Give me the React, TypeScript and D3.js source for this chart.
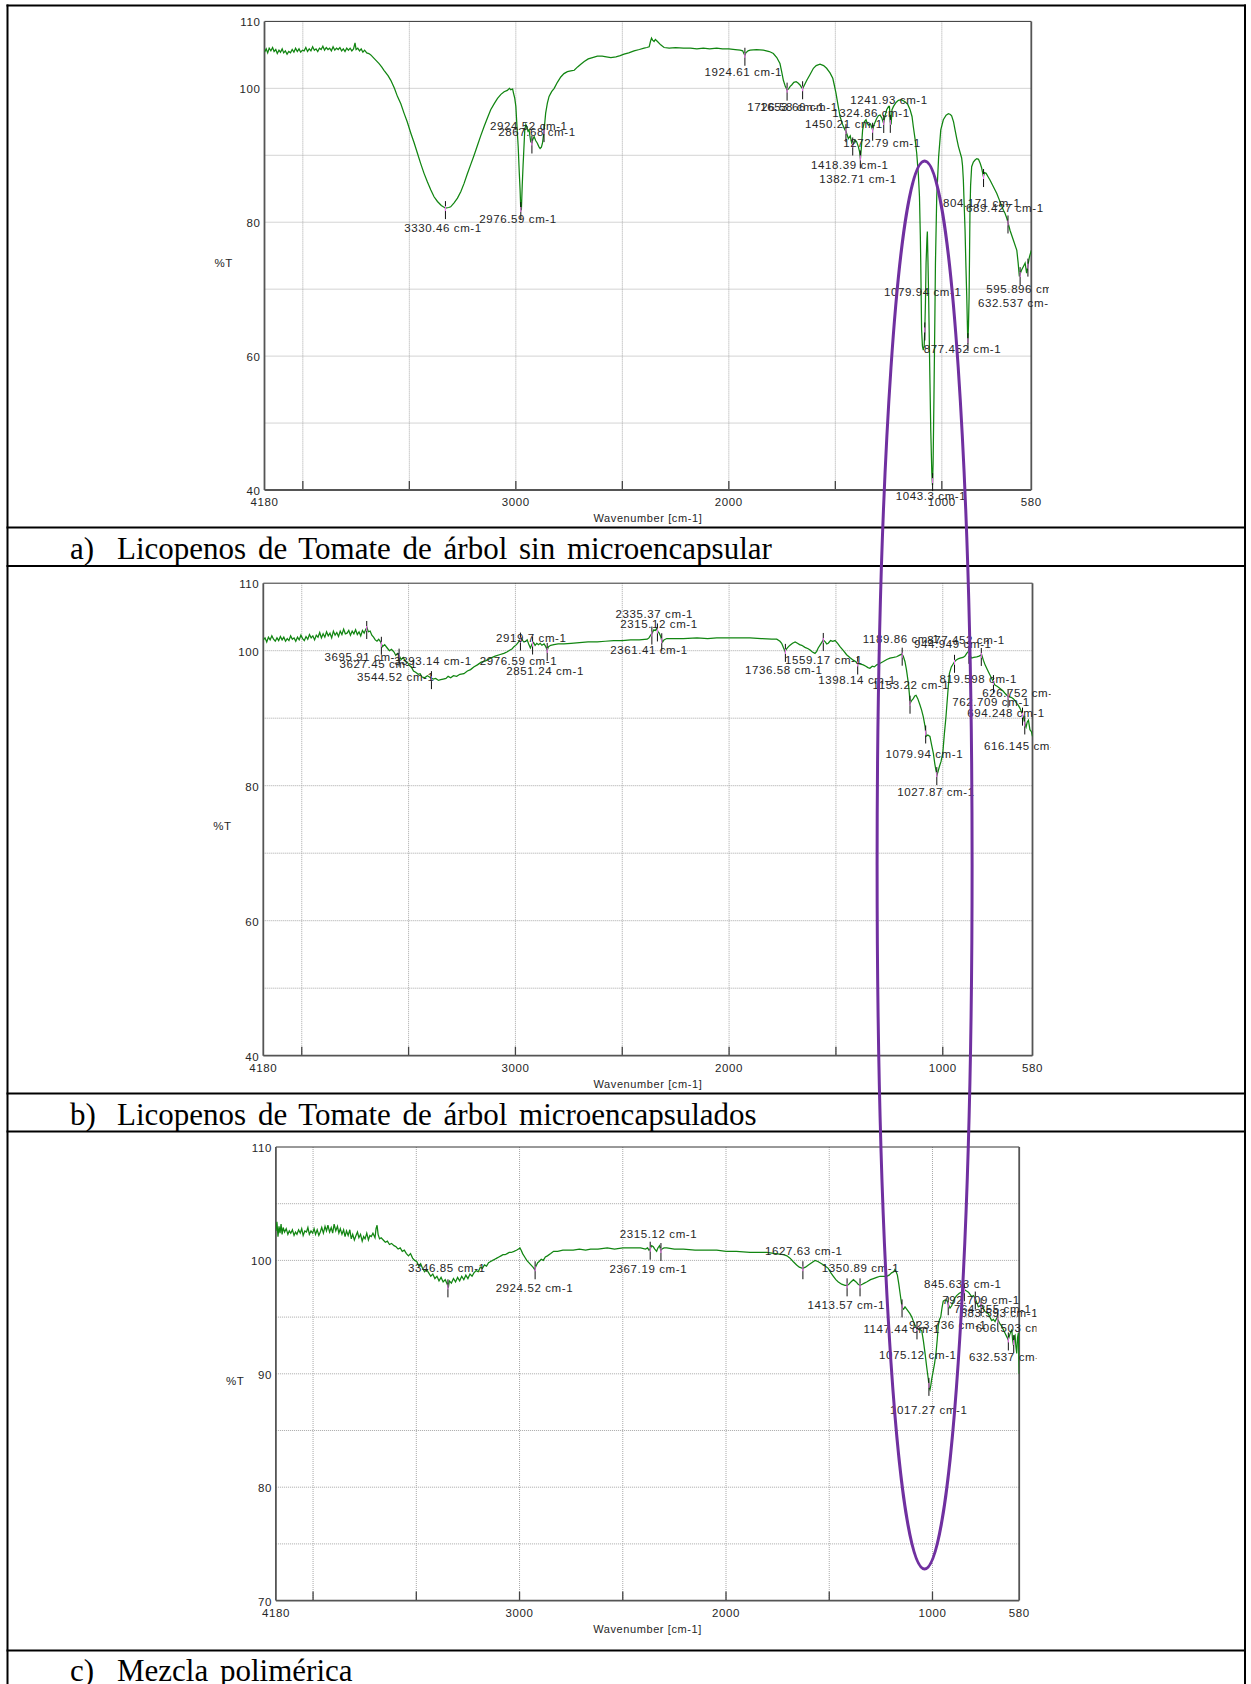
import React from "react";
import * as d3 from "d3";

type Pt = [number, number];

// ---------- Spectrum a) Licopenos sin microencapsular : [wavenumber, %T]
const SPEC_A: Pt[] = [
  [4180, 105.4], [4172, 105.9], [4165, 105.3], [4158, 106.0], [4150, 105.6], [4142, 106.1], [4135, 105.5], [4127, 105.8],
  [4120, 105.2], [4112, 105.7], [4105, 105.4], [4097, 105.9], [4090, 105.3], [4082, 105.6], [4074, 105.1], [4066, 105.5],
  [4058, 105.3], [4050, 105.8], [4042, 105.4], [4034, 106.0], [4026, 105.5], [4018, 105.9], [4010, 105.4], [4002, 105.7],
  [3994, 105.6], [3986, 106.1], [3978, 105.5], [3970, 105.9], [3962, 105.6], [3954, 106.2], [3946, 105.7], [3938, 105.9],
  [3930, 105.5], [3922, 106.0], [3914, 105.8], [3906, 106.3], [3898, 105.7], [3890, 106.1], [3882, 105.8], [3874, 106.0],
  [3866, 105.6], [3858, 106.2], [3850, 105.7], [3842, 106.0], [3834, 105.8], [3826, 106.1], [3818, 105.6], [3810, 105.9],
  [3802, 105.5], [3794, 106.0], [3786, 105.7], [3778, 106.0], [3770, 105.6], [3762, 105.9], [3755, 106.8], [3750, 105.8],
  [3742, 106.0], [3734, 105.6], [3726, 105.9], [3718, 105.4], [3710, 105.7], [3700, 105.3], [3690, 105.2], [3681, 105.0],
  [3660, 104.3], [3642, 103.7], [3630, 103.2], [3619, 102.7], [3600, 101.9], [3587, 101.2], [3570, 100.0], [3556, 98.8],
  [3540, 97.7], [3525, 96.3], [3510, 95.0], [3493, 93.3], [3478, 91.9], [3462, 90.3], [3447, 88.8], [3431, 87.3],
  [3415, 86.0], [3399, 84.8], [3384, 83.8], [3368, 83.1], [3350, 82.5], [3330, 82.1], [3315, 82.2], [3306, 82.3],
  [3290, 82.9], [3274, 83.6], [3258, 84.6], [3243, 85.8], [3228, 87.2], [3212, 88.6], [3196, 90.0], [3180, 91.5],
  [3165, 92.9], [3149, 94.3], [3133, 95.6], [3118, 96.8], [3100, 97.8], [3086, 98.5], [3070, 99.1], [3055, 99.5],
  [3040, 99.7], [3030, 100.0], [3024, 99.8], [3015, 99.9], [3011, 99.3], [3005, 98.5], [3000, 97.3], [2995, 94.5],
  [2989, 91.3], [2984, 87.5], [2980, 84.8], [2977, 82.0], [2974, 81.8], [2970, 85.5], [2966, 88.5], [2964, 89.8],
  [2960, 92.5], [2958, 93.8], [2953, 94.6], [2949, 94.3], [2943, 93.6], [2938, 93.8], [2930, 92.0], [2924, 91.9],
  [2920, 92.4], [2914, 92.8], [2907, 92.2], [2899, 91.8], [2892, 91.3], [2886, 91.0], [2880, 91.2], [2875, 91.8],
  [2868, 93.5], [2860, 96.3], [2852, 97.8], [2844, 98.8], [2832, 99.5], [2820, 100.0], [2805, 100.9], [2789, 101.7],
  [2774, 102.2], [2758, 102.5], [2742, 102.6], [2726, 102.7], [2710, 103.2], [2695, 103.6], [2679, 104.0], [2660, 104.4],
  [2640, 104.6], [2617, 104.8], [2595, 104.8], [2575, 104.7], [2554, 104.6], [2530, 104.7], [2510, 104.9], [2492, 105.1],
  [2470, 105.3], [2445, 105.6], [2420, 105.8], [2398, 106.0], [2385, 106.1], [2374, 106.2], [2368, 107.0], [2363, 107.5],
  [2358, 107.2], [2351, 107.0], [2345, 107.3], [2335, 107.0], [2320, 106.5], [2304, 106.1], [2280, 106.0], [2250, 106.1],
  [2213, 106.0], [2180, 106.0], [2150, 105.9], [2120, 106.0], [2090, 105.9], [2057, 106.0], [2030, 105.9], [2000, 105.9],
  [1970, 105.8], [1947, 105.7], [1935, 105.6], [1928, 105.1], [1924, 105.0], [1920, 105.3], [1910, 105.6], [1900, 105.7],
  [1870, 105.8], [1838, 105.7], [1810, 105.5], [1791, 105.2], [1775, 104.6], [1760, 103.7], [1752, 102.5], [1744, 101.2],
  [1735, 100.3], [1727, 99.8], [1720, 99.9], [1712, 100.3], [1705, 100.5], [1695, 100.9], [1684, 101.0], [1675, 100.8],
  [1666, 100.5], [1658, 100.1], [1653, 100.0], [1645, 100.5], [1634, 101.2], [1620, 102.0], [1603, 103.0], [1590, 103.4],
  [1572, 103.6], [1555, 103.4], [1541, 103.0], [1525, 102.3], [1512, 101.5], [1505, 100.5], [1497, 99.3], [1488, 97.6],
  [1478, 95.8], [1466, 94.6], [1455, 93.8], [1450, 93.6], [1439, 92.5], [1430, 92.9], [1423, 91.8], [1418, 91.6],
  [1408, 92.3], [1400, 92.0], [1392, 91.3], [1386, 90.5], [1382, 89.5], [1377, 91.5], [1372, 93.8], [1364, 95.0],
  [1356, 95.3], [1350, 94.8], [1345, 94.5], [1335, 94.7], [1325, 93.8], [1318, 94.6], [1306, 95.5], [1298, 95.9],
  [1290, 96.0], [1282, 95.6], [1274, 94.8], [1267, 95.8], [1259, 96.8], [1250, 97.3], [1246, 97.3], [1242, 95.0],
  [1238, 94.6], [1234, 96.8], [1227, 97.3], [1215, 97.9], [1204, 98.2], [1190, 98.3], [1173, 98.0], [1160, 97.6],
  [1149, 96.8], [1140, 95.8], [1134, 94.3], [1126, 92.5], [1118, 90.3], [1110, 87.0], [1105, 83.8], [1101, 78.0],
  [1099, 73.9], [1095, 63.9], [1091, 61.5], [1087, 60.9], [1083, 61.5], [1080, 63.9], [1077, 68.0], [1074, 73.9],
  [1070, 77.5], [1068, 78.6], [1065, 74.0], [1062, 68.9], [1057, 58.5], [1052, 48.9], [1047, 42.5], [1044, 40.7],
  [1041, 44.0], [1037, 53.9], [1033, 65.0], [1030, 73.9], [1024, 83.8], [1015, 89.8], [1005, 93.8], [993, 95.3],
  [980, 96.0], [969, 96.2], [960, 96.1], [954, 95.9], [945, 95.0], [938, 93.8], [930, 92.5], [922, 91.3],
  [907, 89.6], [903, 88.5], [899, 86.3], [895, 82.5], [891, 78.8], [887, 73.5], [883, 68.9], [880, 64.5],
  [878, 61.9], [875, 64.5], [872, 68.9], [870, 75.0], [868, 81.3], [865, 85.5], [860, 88.3], [852, 89.0],
  [844, 89.3], [836, 89.5], [828, 89.4], [820, 88.8], [813, 88.1], [805, 86.8], [800, 87.4], [792, 87.3],
  [783, 86.8], [774, 86.3], [758, 85.3], [742, 84.3], [726, 83.0], [711, 81.8], [703, 81.3], [695, 80.6],
  [688, 79.8], [680, 78.8], [664, 77.3], [648, 75.8], [642, 74.0], [636, 71.9], [630, 72.5], [625, 72.9],
  [617, 73.4], [609, 73.9], [602, 72.4], [596, 73.5], [589, 74.8], [580, 75.8],
];

// ---------- Spectrum b) Licopenos microencapsulados
const SPEC_B: Pt[] = [
  [4180, 101.6], [4172, 101.9], [4164, 101.3], [4156, 102.0], [4148, 101.6], [4140, 102.2], [4132, 101.7], [4124, 101.4],
  [4116, 101.9], [4108, 101.5], [4100, 102.1], [4092, 101.6], [4084, 102.0], [4076, 101.4], [4068, 101.8], [4060, 101.5],
  [4052, 102.2], [4044, 101.7], [4036, 101.9], [4028, 101.4], [4020, 102.0], [4012, 101.6], [4004, 102.3], [3996, 101.8],
  [3988, 101.5], [3980, 102.1], [3972, 101.7], [3964, 102.4], [3956, 101.9], [3948, 102.2], [3940, 101.6], [3932, 102.3],
  [3924, 102.0], [3916, 102.7], [3908, 101.9], [3900, 102.5], [3892, 102.0], [3884, 102.8], [3876, 102.2], [3868, 102.6],
  [3860, 101.9], [3852, 102.9], [3844, 102.3], [3836, 102.7], [3828, 102.1], [3820, 102.9], [3812, 102.4], [3804, 103.2],
  [3796, 102.5], [3788, 102.6], [3780, 103.0], [3772, 102.3], [3764, 102.9], [3756, 102.5], [3748, 103.1], [3740, 102.4],
  [3732, 102.8], [3724, 102.2], [3716, 103.0], [3708, 102.6], [3700, 103.2], [3695, 103.4], [3688, 102.8], [3680, 102.9],
  [3672, 102.3], [3664, 102.0], [3656, 101.6], [3648, 101.4], [3640, 101.7], [3631, 101.3], [3622, 100.6], [3612, 100.9],
  [3600, 100.4], [3590, 100.0], [3580, 100.2], [3568, 99.8], [3560, 99.3], [3552, 99.6], [3543, 99.2], [3535, 98.7],
  [3525, 99.0], [3515, 98.4], [3506, 98.3], [3496, 97.8], [3487, 97.6], [3477, 97.0], [3467, 96.8], [3455, 96.5],
  [3446, 96.6], [3437, 96.1], [3425, 96.0], [3412, 96.3], [3397, 96.0], [3385, 95.8], [3373, 95.9], [3360, 95.6],
  [3350, 95.7], [3338, 95.8], [3325, 95.9], [3315, 96.2], [3303, 96.0], [3290, 96.3], [3275, 96.2], [3260, 96.5],
  [3241, 96.6], [3225, 97.0], [3210, 97.2], [3195, 97.6], [3178, 97.9], [3160, 98.3], [3140, 98.5], [3116, 98.9],
  [3095, 99.2], [3075, 99.4], [3054, 99.6], [3040, 99.8], [3025, 100.1], [3015, 100.3], [3007, 100.6], [2995, 100.9],
  [2985, 101.3], [2978, 101.6], [2972, 101.8], [2966, 101.5], [2960, 101.3], [2952, 101.4], [2945, 101.6], [2938, 101.0],
  [2930, 100.4], [2922, 101.0], [2915, 101.2], [2908, 100.8], [2900, 101.1], [2892, 100.9], [2884, 101.1], [2876, 100.8],
  [2866, 101.0], [2858, 100.6], [2851, 100.1], [2845, 100.6], [2835, 100.8], [2820, 100.9], [2800, 101.0], [2773, 101.0],
  [2740, 101.1], [2700, 101.2], [2660, 101.3], [2617, 101.3], [2580, 101.4], [2540, 101.5], [2500, 101.5], [2461, 101.6],
  [2420, 101.6], [2383, 101.7], [2375, 101.9], [2367, 102.3], [2360, 102.6], [2352, 103.1], [2345, 103.0], [2339, 103.3],
  [2333, 102.8], [2327, 102.6], [2320, 102.1], [2316, 101.6], [2311, 101.3], [2305, 101.6], [2292, 101.8], [2250, 101.8],
  [2214, 101.8], [2150, 101.9], [2100, 101.8], [2058, 101.9], [2000, 101.9], [1950, 101.9], [1902, 101.9], [1850, 101.8],
  [1800, 101.7], [1777, 101.7], [1762, 101.4], [1754, 101.1], [1745, 100.4], [1738, 99.9], [1730, 100.3], [1722, 100.6],
  [1715, 100.8], [1703, 101.1], [1691, 101.3], [1680, 101.1], [1670, 100.9], [1660, 100.8], [1645, 100.5], [1630, 100.3],
  [1621, 100.1], [1610, 99.8], [1598, 99.6], [1590, 99.9], [1583, 100.4], [1575, 100.8], [1567, 101.2], [1559, 101.6],
  [1550, 101.3], [1543, 101.0], [1536, 101.1], [1525, 101.5], [1515, 101.4], [1504, 101.5], [1492, 101.1], [1481, 100.6],
  [1465, 100.0], [1450, 99.4], [1435, 99.0], [1419, 98.6], [1408, 98.4], [1398, 98.1], [1385, 98.0], [1372, 97.9],
  [1360, 97.7], [1350, 97.5], [1341, 97.4], [1330, 97.7], [1320, 97.6], [1309, 97.9], [1295, 98.1], [1278, 98.4],
  [1262, 98.7], [1247, 98.9], [1230, 99.0], [1216, 99.1], [1204, 99.3], [1192, 99.5], [1185, 99.2], [1177, 98.4],
  [1170, 97.2], [1161, 95.2], [1156, 93.5], [1153, 92.2], [1146, 92.6], [1138, 92.9], [1131, 93.3], [1125, 93.4],
  [1117, 92.9], [1107, 92.0], [1099, 91.2], [1091, 90.2], [1083, 88.8], [1078, 87.3], [1070, 87.5], [1060, 87.3],
  [1052, 86.0], [1044, 84.8], [1037, 83.2], [1032, 82.3], [1027, 81.6], [1022, 82.1], [1016, 82.8], [1008, 83.6],
  [1000, 84.8], [993, 87.5], [985, 90.2], [977, 93.5], [969, 96.6], [960, 97.6], [950, 98.1], [944, 98.4],
  [938, 98.6], [928, 98.8], [919, 98.9], [905, 99.0], [896, 99.2], [888, 99.6], [880, 99.9], [873, 99.3],
  [865, 98.9], [855, 99.0], [841, 99.1], [830, 99.2], [818, 99.4], [810, 98.6], [802, 97.9], [790, 97.1],
  [779, 96.4], [768, 95.7], [756, 94.9], [744, 94.7], [732, 94.4], [720, 94.1], [709, 93.7], [700, 93.4],
  [693, 93.2], [680, 93.1], [670, 92.9], [662, 92.6], [654, 92.2], [646, 91.9], [639, 91.5], [631, 90.9],
  [623, 90.2], [616, 89.2], [610, 88.7], [605, 89.4], [599, 89.7], [595, 88.9], [592, 88.3], [585, 88.0], [580, 87.3],
];

// ---------- Spectrum c) Mezcla polimérica
const SPEC_C: Pt[] = [
  [4180, 102.6], [4175, 103.4], [4170, 102.1], [4165, 103.0], [4160, 102.4], [4155, 103.2], [4150, 102.3], [4145, 102.9],
  [4138, 102.5], [4130, 102.8], [4122, 102.3], [4115, 102.6], [4108, 102.4], [4100, 102.7], [4092, 102.2], [4085, 102.5],
  [4078, 102.3], [4070, 102.7], [4062, 102.4], [4055, 102.8], [4048, 102.2], [4040, 102.6], [4032, 102.5], [4025, 102.9],
  [4018, 102.3], [4010, 102.6], [4002, 102.4], [3995, 102.8], [3988, 102.3], [3980, 102.7], [3972, 102.2], [3965, 102.5],
  [3958, 102.9], [3950, 102.4], [3942, 103.0], [3935, 102.6], [3928, 103.1], [3920, 102.5], [3912, 102.9], [3905, 102.4],
  [3898, 103.2], [3890, 102.6], [3882, 103.0], [3875, 102.4], [3868, 102.8], [3860, 102.3], [3852, 102.7], [3845, 102.1],
  [3838, 102.6], [3830, 102.2], [3822, 102.7], [3815, 101.9], [3808, 102.3], [3800, 101.8], [3792, 102.2], [3785, 102.5],
  [3778, 102.0], [3770, 102.3], [3762, 101.7], [3755, 102.1], [3748, 101.9], [3740, 102.4], [3732, 101.8], [3725, 102.2],
  [3718, 102.1], [3710, 102.4], [3700, 102.0], [3695, 102.8], [3690, 103.1], [3685, 102.3], [3678, 101.9], [3670, 102.0],
  [3660, 101.8], [3650, 101.6], [3640, 101.7], [3630, 101.4], [3620, 101.5], [3608, 101.3], [3598, 101.2], [3588, 101.0],
  [3578, 101.1], [3568, 100.8], [3558, 100.9], [3548, 100.6], [3538, 100.4], [3528, 100.6], [3518, 100.2], [3508, 100.0],
  [3498, 99.9], [3488, 99.5], [3479, 99.7], [3470, 99.3], [3460, 99.0], [3450, 99.2], [3440, 98.9], [3430, 98.6],
  [3420, 98.8], [3410, 98.4], [3400, 98.6], [3390, 98.2], [3380, 98.5], [3370, 98.1], [3360, 98.3], [3350, 97.9],
  [3345, 97.6], [3340, 98.2], [3330, 98.0], [3320, 98.4], [3310, 98.1], [3300, 98.5], [3290, 98.2], [3280, 98.6],
  [3270, 98.3], [3260, 98.7], [3250, 98.4], [3240, 98.8], [3230, 98.6], [3221, 98.9], [3210, 99.1], [3200, 99.0],
  [3190, 99.4], [3180, 99.3], [3170, 99.6], [3160, 99.5], [3150, 99.8], [3140, 99.9], [3130, 100.0], [3120, 100.1],
  [3110, 100.2], [3100, 100.3], [3090, 100.4], [3080, 100.5], [3070, 100.5], [3060, 100.6], [3050, 100.7], [3040, 100.7],
  [3027, 100.8], [3015, 100.9], [3005, 101.0], [2998, 101.1], [2992, 100.9], [2985, 100.6], [2975, 100.3], [2965, 100.0],
  [2955, 99.8], [2945, 99.6], [2935, 99.4], [2927, 99.2], [2920, 99.5], [2912, 99.8], [2905, 99.9], [2895, 100.1],
  [2885, 100.0], [2875, 100.3], [2865, 100.4], [2849, 100.6], [2835, 100.8], [2815, 100.8], [2790, 100.9], [2769, 100.9],
  [2740, 100.9], [2710, 101.0], [2680, 100.9], [2656, 101.0], [2620, 101.0], [2575, 101.1], [2540, 101.0], [2500, 101.1],
  [2460, 101.1], [2414, 101.1], [2390, 101.0], [2380, 101.1], [2373, 100.9], [2368, 101.0], [2360, 101.3], [2352, 101.2],
  [2345, 101.0], [2336, 100.8], [2330, 101.1], [2322, 101.3], [2316, 100.9], [2310, 101.0], [2300, 101.1], [2287, 101.1],
  [2250, 101.0], [2207, 101.0], [2150, 100.9], [2100, 100.9], [2045, 100.9], [2000, 100.8], [1950, 100.8], [1884, 100.7],
  [1850, 100.7], [1803, 100.7], [1760, 100.6], [1722, 100.5], [1705, 100.4], [1690, 100.2], [1675, 99.9], [1658, 99.6],
  [1645, 99.4], [1629, 99.3], [1615, 99.4], [1601, 99.6], [1585, 99.8], [1569, 100.0], [1555, 99.9], [1537, 99.7],
  [1520, 99.5], [1505, 99.3], [1492, 98.9], [1480, 98.6], [1468, 98.3], [1456, 98.1], [1440, 97.9], [1424, 97.8],
  [1413, 97.8], [1405, 97.9], [1395, 98.1], [1383, 98.3], [1370, 98.1], [1360, 97.9], [1351, 97.8], [1340, 97.9],
  [1330, 98.0], [1319, 98.1], [1300, 98.3], [1286, 98.4], [1270, 98.5], [1254, 98.6], [1240, 98.6], [1222, 98.6],
  [1210, 98.7], [1198, 98.9], [1188, 99.0], [1182, 99.2], [1176, 99.0], [1170, 98.7], [1163, 97.9], [1157, 97.1],
  [1150, 96.2], [1146, 95.8], [1140, 95.7], [1133, 95.9], [1125, 95.7], [1117, 95.5], [1109, 95.3], [1100, 95.0],
  [1092, 94.6], [1085, 94.3], [1075, 94.0], [1068, 93.9], [1060, 93.9], [1052, 93.8], [1044, 92.9], [1036, 91.8],
  [1028, 90.6], [1020, 89.5], [1016, 88.8], [1012, 88.6], [1008, 89.0], [1004, 89.5], [999, 90.0], [990, 90.9],
  [983, 91.8], [977, 93.0], [972, 94.2], [966, 94.8], [960, 95.0], [954, 95.8], [948, 96.4], [940, 96.5],
  [931, 96.5], [923, 96.1], [915, 95.8], [907, 96.0], [899, 96.4], [891, 96.7], [883, 96.9], [870, 97.1],
  [859, 97.2], [851, 97.3], [843, 97.4], [835, 97.3], [826, 97.2], [818, 97.0], [810, 96.8], [802, 96.9],
  [794, 96.7], [786, 96.3], [778, 95.9], [770, 96.0], [762, 96.1], [754, 95.8], [746, 95.5], [738, 95.4],
  [730, 95.3], [722, 95.0], [713, 94.7], [705, 94.8], [697, 94.6], [689, 94.9], [681, 94.7], [673, 94.4],
  [665, 94.2], [657, 93.9], [649, 93.6], [641, 93.3], [633, 93.0], [625, 93.5], [616, 93.9], [612, 93.0],
  [608, 92.5], [604, 93.3], [600, 93.4], [596, 92.4], [592, 91.8], [588, 93.2], [584, 93.6], [580, 90.0],
];

// ---------- Peak labels (wavenumber text) and label centres [wavenumber, %T]
const PEAKS_A = ["3330.46", "2976.59", "2924.52", "2867.68", "1924.61", "1726.58", "1653.66", "1450.21", "1418.39",
  "1382.71", "1324.86", "1272.79", "1241.93", "1079.94", "1043.3", "877.452", "804.171", "689.427", "632.537", "595.896"];
const LABELS_A: Pt[] = [[3342, 79.1], [2990, 80.5], [2939, 94.4], [2901, 93.5], [1932, 102.5], [1732, 97.2], [1671, 97.2],
  [1460, 94.7], [1432, 88.55], [1394, 86.5], [1333, 96.3], [1281, 91.9], [1248, 98.2], [1090, 69.6], [1051, 39.1],
  [903, 61.1], [813, 82.9], [704, 82.1], [648, 67.9], [609, 70.0]];

const PEAKS_B = ["3695.91", "3627.45", "3393.14", "3544.52", "2976.59", "2919.7", "2851.24", "2335.37", "2315.12",
  "2361.41", "1736.58", "1559.17", "1398.14", "1189.86", "1153.22", "1079.94", "1027.87", "944.949", "877.452",
  "819.598", "762.709", "694.248", "626.752", "616.145"];
const LABELS_B: Pt[] = [[3712, 99.1], [3642, 98.0], [3386, 98.5], [3560, 96.1], [2986, 98.5], [2926, 101.9], [2861, 97.0],
  [2350, 105.4], [2328, 103.9], [2375, 100.1], [1744, 97.1], [1557, 98.6], [1401, 95.7], [1195, 101.8], [1149, 94.9],
  [1086, 84.7], [1032, 79.1], [953, 101.0], [891, 101.6], [834, 95.8], [774, 92.4], [704, 90.8], [634, 93.8], [626, 85.9]];

const PEAKS_C = ["3346.85", "2924.52", "2315.12", "2367.19", "1627.63", "1350.89", "1413.57", "845.633", "792.709",
  "764.355", "683.593", "923.736", "1147.44", "606.503", "1075.12", "632.537", "1017.27"];
const LABELS_C: Pt[] = [[3352, 99.3], [2928, 97.54], [2327, 102.33], [2376, 99.22], [1623, 100.83], [1349, 99.3],
  [1418, 96.07], [853, 97.9], [765, 96.5], [708, 95.7], [676, 95.4], [926, 94.3], [1149, 93.92], [603, 94.0],
  [1071, 91.66], [635, 91.45], [1018, 86.8]];

// ---------- Axes
const X_DOMAIN = [4180, 580];
const X_TICK_LABELS = [4180, 3000, 2000, 1000, 580];
const X_GRID = [4000, 3500, 3000, 2500, 2000, 1500, 1000];
const AB_Y_DOMAIN = [40, 110];
const AB_Y_TICK_LABELS = [110, 100, 80, 60, 40];
const AB_Y_GRID = [100, 90, 80, 70, 60, 50];
const C_Y_DOMAIN = [70, 110];
const C_Y_TICK_LABELS = [110, 100, 90, 80, 70];
const C_Y_GRID = [105, 100, 95, 90, 85, 80, 75];

const CAPTIONS = [
  ["a)", "Licopenos de Tomate de árbol sin microencapsular"],
  ["b)", "Licopenos de Tomate de árbol microencapsulados"],
  ["c)", "Mezcla polimérica"],
];

// ---------- Layout (pixels)
const PANELS = [
  { spec: SPEC_A, peaks: PEAKS_A, labels: LABELS_A, yDomain: AB_Y_DOMAIN, yTicks: AB_Y_TICK_LABELS, yGrid: AB_Y_GRID,
    left: 264.5, right: 1031.3, top: 21.4, bottom: 490, imgTop: 7, imgBottom: 526, clipRight: 1049 },
  { spec: SPEC_B, peaks: PEAKS_B, labels: LABELS_B, yDomain: AB_Y_DOMAIN, yTicks: AB_Y_TICK_LABELS, yGrid: AB_Y_GRID,
    left: 263.3, right: 1032.5, top: 583.2, bottom: 1055.7, imgTop: 568, imgBottom: 1092, clipRight: 1050.6 },
  { spec: SPEC_C, peaks: PEAKS_C, labels: LABELS_C, yDomain: C_Y_DOMAIN, yTicks: C_Y_TICK_LABELS, yGrid: C_Y_GRID,
    left: 275.9, right: 1019.2, top: 1147, bottom: 1600.6, imgTop: 1133, imgBottom: 1649, clipRight: 1036.5 },
];
const CAPTION_Y = [548.7, 1114.6, 1670];
const ROW_LINES = [5.5, 527.5, 566, 1093.5, 1131.5, 1650.5];

const CHART_FONT = "'Liberation Sans', Arial, sans-serif";
const TEXT_COL = "#262626";

function interpT(data: Pt[], w: number): number {
  for (let i = 0; i < data.length - 1; i++) {
    const [w0, t0] = data[i];
    const [w1, t1] = data[i + 1];
    if (w <= w0 && w >= w1) {
      const f = w0 === w1 ? 0 : (w0 - w) / (w0 - w1);
      return t0 + f * (t1 - t0);
    }
  }
  return data[data.length - 1][1];
}

function Panel({ cfg, idx }: { cfg: any; idx: number }) {
  const x = d3.scaleLinear().domain(X_DOMAIN).range([cfg.left, cfg.right]);
  const y = d3.scaleLinear().domain(cfg.yDomain).range([cfg.bottom, cfg.top]);
  const line = d3.line<Pt>().x((d) => x(d[0])).y((d) => y(d[1]));
  const midY = (cfg.top + cfg.bottom) / 2;
  const txt = { fontFamily: CHART_FONT, fontSize: 11.5, fill: TEXT_COL, letterSpacing: 0.6 } as any;
  return (
    <g>
      <defs>
        <clipPath id={`plot${idx}`}>
          <rect x={cfg.left} y={cfg.top - 1} width={cfg.right - cfg.left} height={cfg.bottom - cfg.top + 1} />
        </clipPath>
        <clipPath id={`img${idx}`}>
          <rect x={0} y={cfg.imgTop} width={cfg.clipRight} height={cfg.imgBottom - cfg.imgTop} />
        </clipPath>
      </defs>
      <g clipPath={`url(#img${idx})`}>
        {cfg.yGrid.map((v: number) => (
          <line key={`hg${v}`} x1={cfg.left} x2={cfg.right} y1={y(v)} y2={y(v)} stroke="#a8a8a8" strokeWidth={1} strokeDasharray="1,1" />
        ))}
        {X_GRID.map((v) => (
          <line key={`vg${v}`} x1={x(v)} x2={x(v)} y1={cfg.top} y2={cfg.bottom} stroke="#a8a8a8" strokeWidth={1} strokeDasharray="1,1" />
        ))}
        {X_GRID.map((v) => (
          <line key={`xt${v}`} x1={x(v)} x2={x(v)} y1={cfg.bottom} y2={cfg.bottom - 9} stroke="#444" strokeWidth={1.3} />
        ))}
        <line x1={cfg.left} x2={cfg.right} y1={cfg.top} y2={cfg.top} stroke="#333" strokeWidth={1} />
        <line x1={cfg.left} x2={cfg.left} y1={cfg.top} y2={cfg.bottom} stroke="#555" strokeWidth={1.8} />
        <line x1={cfg.right} x2={cfg.right} y1={cfg.top} y2={cfg.bottom} stroke="#555" strokeWidth={1.8} />
        <line x1={cfg.left} x2={cfg.right} y1={cfg.bottom} y2={cfg.bottom} stroke="#555" strokeWidth={1.8} />
        <path d={line(cfg.spec) || ""} fill="none" stroke="#118511" strokeWidth={1.25} clipPath={`url(#plot${idx})`} />
        {cfg.peaks.map((p: string) => {
          const w = parseFloat(p);
          const yy = y(interpT(cfg.spec, w));
          return (
            <g key={`pk${p}`}>
              <line x1={x(w)} x2={x(w)} y1={yy - 7} y2={yy + 11} stroke="#111" strokeWidth={1} />
              <line x1={x(w)} x2={x(w)} y1={yy - 2} y2={yy + 3} stroke="#ff7fff" strokeWidth={1} />
            </g>
          );
        })}
        {cfg.peaks.map((p: string, i: number) => (
          <text key={`lb${p}`} x={x(cfg.labels[i][0])} y={y(cfg.labels[i][1])} textAnchor="middle" dominantBaseline="central" {...txt}>
            {p} cm-1
          </text>
        ))}
        {cfg.yTicks.map((v: number) => (
          <text key={`yl${v}`} x={cfg.left - 4} y={y(v) + 1} textAnchor="end" dominantBaseline="central" {...txt}>{v}</text>
        ))}
        {X_TICK_LABELS.map((v) => (
          <text key={`xl${v}`} x={x(v)} y={cfg.bottom + 12} textAnchor="middle" dominantBaseline="central" {...txt}>{v}</text>
        ))}
        <text x={cfg.left - 50} y={midY + 7} dominantBaseline="central" {...txt}>%T</text>
        <text x={(cfg.left + cfg.right) / 2} y={cfg.bottom + 28} textAnchor="middle" dominantBaseline="central" {...txt} fontSize={11}>
          Wavenumber [cm-1]
        </text>
      </g>
    </g>
  );
}

export default function App() {
  return (
    <svg width={1251} height={1684} style={{ position: "absolute", left: 0, top: 0, background: "#fff" }}>
      <rect x={0} y={0} width={1251} height={1684} fill="#fff" />
      {PANELS.map((cfg, i) => (
        <Panel key={i} cfg={cfg} idx={i} />
      ))}
      {ROW_LINES.map((ry) => (
        <line key={`rl${ry}`} x1={6.5} x2={1246} y1={ry} y2={ry} stroke="#000" strokeWidth={2} />
      ))}
      <line x1={7.5} x2={7.5} y1={4.5} y2={1684} stroke="#000" strokeWidth={2} />
      <line x1={1245} x2={1245} y1={4.5} y2={1684} stroke="#000" strokeWidth={2} />
      {CAPTIONS.map(([a, t], i) => (
        <g key={`cap${i}`} style={{ fontFamily: "'Liberation Serif', 'Times New Roman', serif", fontSize: 31 }}>
          <text x={70} y={CAPTION_Y[i]} dominantBaseline="central" fill="#000">{a}</text>
          <text x={117} y={CAPTION_Y[i]} dominantBaseline="central" fill="#000" wordSpacing={4}>{t}</text>
        </g>
      ))}
      <ellipse cx={924.6} cy={865} rx={47.5} ry={704} fill="none" stroke="#7030A0" strokeWidth={3} />
    </svg>
  );
}
